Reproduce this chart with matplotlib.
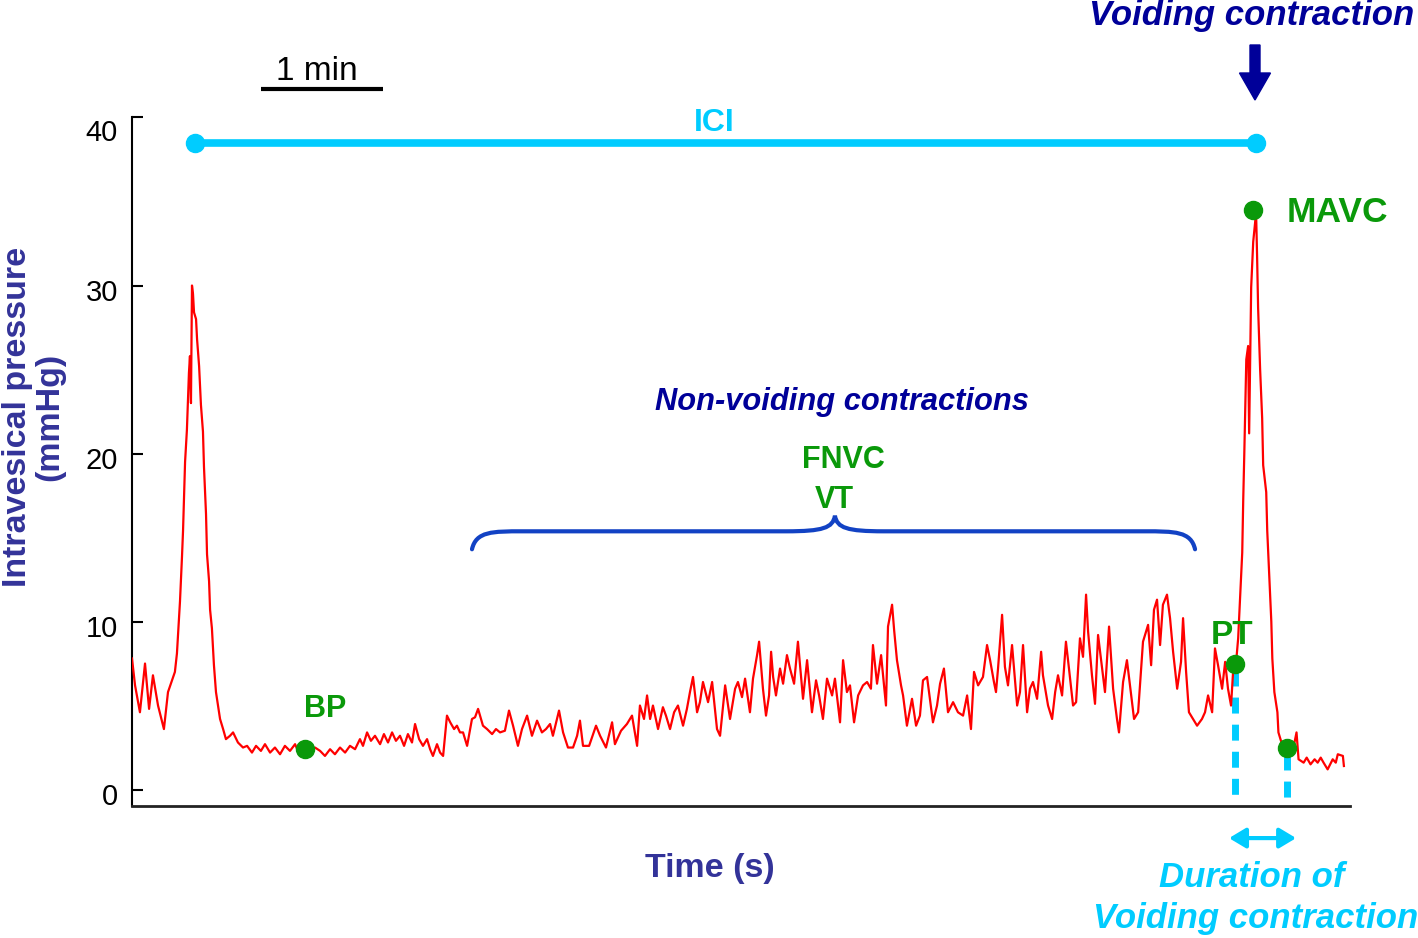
import matplotlib
matplotlib.use("Agg")
import matplotlib.pyplot as plt
from matplotlib.path import Path
from matplotlib.patches import PathPatch, FancyArrow
from matplotlib.transforms import ScaledTranslation

W, H = 1418, 938

# intravesical pressure trace (time in s, pressure in mmHg)
time_s = [
    0.0, 1.5, 3.9, 6.4, 8.4, 10.3, 12.8, 15.7, 17.7, 21.1,
    22.1, 23.6, 24.6, 25.1, 26.1, 27.0, 28.0, 28.5, 29.0, 29.5,
    30.0, 30.5, 31.5, 32.0, 33.0, 33.9, 34.9, 35.4, 36.4, 36.9,
    37.9, 38.4, 39.3, 40.3, 41.3, 42.3, 43.3, 44.8, 46.2, 48.2,
    49.7, 52.1, 54.6, 56.6, 59.0, 61.0, 63.4, 65.4, 67.9, 70.3,
    72.8, 75.2, 77.7, 80.2, 82.6, 85.1, 87.5, 90.0, 92.5, 94.9,
    97.4, 99.8, 102.3, 104.8, 107.2, 109.7, 112.1, 113.6, 115.6, 117.5,
    119.5, 122.0, 123.9, 125.9, 127.9, 129.8, 131.8, 133.8, 135.7, 137.7,
    139.2, 141.2, 143.1, 145.1, 146.6, 148.0, 150.0, 151.5, 153.0, 154.9,
    156.5, 158.4, 159.8, 161.3, 162.8, 164.8, 167.2, 168.7, 170.2, 172.6,
    174.6, 177.1, 179.0, 181.0, 183.4, 185.4, 187.4, 189.8, 191.8, 194.3,
    196.7, 199.2, 201.6, 203.6, 205.6, 207.0, 210.0, 212.0, 214.4, 216.9,
    218.9, 220.3, 221.8, 224.8, 228.2, 230.2, 233.1, 236.1, 237.5, 240.5,
    243.4, 245.9, 248.4, 249.8, 251.8, 253.3, 254.8, 256.2, 258.7, 261.1,
    262.6, 264.6, 266.6, 268.5, 271.0, 272.9, 274.4, 275.9, 277.9, 279.3,
    280.8, 283.3, 285.3, 287.7, 289.2, 291.7, 294.1, 296.6, 298.0, 300.0,
    301.5, 303.9, 305.4, 307.4, 308.4, 310.3, 311.8, 313.3, 314.3, 315.3,
    316.7, 318.7, 320.2, 322.1, 323.6, 325.6, 327.5, 330.0, 332.0, 334.4,
    336.4, 337.9, 339.8, 341.8, 344.3, 345.7, 348.2, 349.7, 351.6, 353.1,
    355.1, 357.1, 359.5, 361.5, 363.4, 364.4, 366.4, 368.4, 370.8, 371.8,
    373.8, 374.8, 376.2, 378.2, 379.2, 381.1, 383.6, 385.6, 387.5, 389.0,
    391.0, 393.9, 395.9, 397.4, 399.3, 401.3, 403.8, 406.2, 408.7, 410.7,
    412.6, 414.1, 416.1, 418.5, 420.5, 422.0, 423.9, 424.9, 425.9, 427.9,
    429.3, 430.8, 432.8, 435.3, 436.7, 438.2, 440.2, 441.6, 443.1, 445.1,
    447.1, 448.0, 450.5, 452.5, 454.0, 455.4, 457.4, 459.3, 460.8, 462.8,
    464.3, 466.2, 467.7, 469.2, 470.2, 472.1, 473.6, 475.1, 477.1, 478.5,
    480.5, 482.5, 484.4, 485.4, 487.4, 489.3, 490.8, 492.8, 494.8, 497.2,
    498.7, 499.7, 501.2, 502.6, 504.1, 505.6, 507.0, 509.0, 510.5, 512.0,
    514.0, 515.9, 516.9, 518.4, 519.8, 521.8, 523.8, 526.2, 527.7, 529.2,
    531.2, 532.6, 534.1, 536.1, 537.6, 539.0, 540.5, 541.5, 543.0, 544.0,
    545.0, 546.0, 546.5, 547.0, 548.0, 548.9, 549.4, 550.4, 551.4, 552.3,
    552.8, 553.3, 553.8, 554.8, 555.8, 556.3, 557.8, 558.3, 559.3, 560.3,
    560.8, 561.8, 563.3, 563.8, 565.3, 567.3, 569.2, 571.2, 572.7, 573.7,
    576.2, 577.7, 579.6, 581.6, 583.1, 584.6, 586.0, 588.0, 590.5, 592.0,
    593.0, 595.5, 596.0,
]
pressure_mmhg = [
    7.8, 6.2, 4.6, 7.5, 4.8, 6.8, 5.0, 3.6, 5.8, 7.0,
    8.1, 11.2, 13.9, 15.4, 19.5, 21.4, 24.8, 25.8, 23.0, 30.0,
    29.5, 28.4, 28.0, 26.8, 25.2, 22.9, 21.3, 19.2, 16.4, 14.0,
    12.4, 10.7, 9.6, 7.4, 5.8, 5.0, 4.2, 3.6, 3.0, 3.2,
    3.4, 2.8, 2.5, 2.6, 2.2, 2.6, 2.3, 2.7, 2.2, 2.5,
    2.1, 2.6, 2.3, 2.7, 2.0, 2.4, 2.2, 2.5, 2.3, 2.0,
    2.4, 2.1, 2.5, 2.2, 2.6, 2.4, 3.0, 2.6, 3.4, 2.9,
    3.2, 2.7, 3.3, 2.8, 3.4, 2.9, 3.2, 2.6, 3.3, 2.8,
    3.9, 3.0, 2.6, 3.0, 2.4, 2.0, 2.7, 2.2, 2.0, 4.4,
    4.0, 3.6, 3.8, 3.4, 3.4, 2.6, 4.2, 4.3, 4.8, 3.8,
    3.6, 3.3, 3.6, 3.4, 3.5, 4.7, 3.8, 2.6, 3.6, 4.4,
    3.2, 4.1, 3.4, 3.6, 3.9, 3.2, 4.7, 3.4, 2.5, 2.5,
    3.2, 4.1, 2.6, 2.6, 3.8, 3.2, 2.5, 4.0, 2.7, 3.5,
    3.9, 4.4, 2.6, 5.0, 4.2, 5.6, 4.2, 5.0, 3.6, 4.9,
    4.4, 3.6, 4.6, 5.0, 3.8, 4.8, 5.8, 6.7, 4.6, 5.2,
    6.4, 5.2, 6.4, 3.6, 3.2, 6.2, 4.2, 6.0, 6.4, 5.5,
    6.6, 4.6, 6.6, 8.0, 8.8, 6.0, 4.4, 5.6, 8.2, 6.7,
    5.6, 7.2, 6.3, 8.0, 7.2, 6.3, 8.8, 5.4, 7.7, 4.6,
    6.5, 5.6, 4.2, 6.6, 5.6, 6.6, 4.0, 7.7, 5.8, 6.2,
    4.0, 5.6, 6.2, 6.4, 6.0, 8.6, 6.3, 8.0, 5.0, 9.7,
    11.0, 9.5, 7.7, 6.2, 5.6, 3.8, 5.4, 3.8, 4.4, 6.5,
    6.7, 4.0, 5.0, 6.3, 7.2, 4.6, 5.2, 4.6, 4.4, 5.6,
    3.6, 7.0, 6.2, 6.7, 8.6, 7.7, 6.4, 5.8, 7.2, 10.4,
    7.3, 6.2, 8.6, 5.0, 5.8, 8.6, 4.6, 6.0, 6.4, 5.4,
    8.2, 6.8, 5.0, 4.2, 5.8, 6.8, 5.6, 8.8, 7.2, 5.0,
    5.2, 9.0, 7.9, 11.6, 9.4, 6.8, 5.1, 9.2, 7.2, 5.8,
    9.7, 6.0, 4.2, 3.4, 6.4, 7.7, 6.2, 4.2, 4.6, 8.8,
    9.4, 9.8, 7.4, 10.7, 11.3, 8.6, 11.0, 11.6, 10.2, 8.2,
    6.0, 7.6, 10.2, 7.0, 4.6, 4.2, 3.8, 4.2, 4.6, 5.6,
    4.6, 8.4, 7.4, 6.0, 7.6, 6.0, 5.0, 7.0, 7.6, 9.0,
    11.6, 14.1, 17.3, 19.9, 25.6, 26.4, 21.2, 29.9, 32.6, 33.7,
    34.4, 31.8, 28.7, 25.0, 22.1, 19.3, 17.7, 15.4, 12.7, 10.0,
    7.8, 5.8, 4.6, 3.4, 2.8, 2.6, 2.4, 2.5, 3.4, 1.8,
    1.6, 1.9, 1.5, 1.8, 1.6, 1.9, 1.6, 1.2, 1.8, 1.6,
    2.1, 2.0, 1.4,
]

yticks = [0, 10, 20, 30, 40]

# measured points (time s, pressure mmHg)
bp_point = (85.1, 2.4)
pt_point = (542.5, 7.5)
mavc_point = (551.4, 34.5)
end_point = (568.0, 2.5)
ici_span = (31.0, 552.8)
ici_level = 38.5
scale_bar = (63.4, 123.4)   # 1 min

RED = '#FF0000'
GREEN = '#0A990A'
CYAN = '#00CCFF'
NAVY = '#000099'
SLATE = '#333399'
BRACE = '#1242C4'

plt.rcParams['font.family'] = ['Liberation Sans', 'DejaVu Sans']


def fx(px):
    return px / W


def fy(py):
    return 1 - py / H


def draw_brace(ax, x0, x1, xm, y_end, y_mid, y_tip):
    """Curly brace opening downwards, tip at xm."""
    verts = [
        (x0, y_end), (x0 + 2, y_mid), (x0 + 10, y_mid), (x0 + 25, y_mid),
        (xm - 24, y_mid),
        (xm - 6, y_mid), (xm - 1, y_mid + 0.2), (xm, y_tip),
        (xm + 1, y_mid + 0.2), (xm + 6, y_mid), (xm + 24, y_mid),
        (x1 - 25, y_mid),
        (x1 - 10, y_mid), (x1 - 2, y_mid), (x1, y_end),
    ]
    codes = [Path.MOVETO, Path.CURVE4, Path.CURVE4, Path.CURVE4,
             Path.LINETO,
             Path.CURVE4, Path.CURVE4, Path.CURVE4,
             Path.CURVE4, Path.CURVE4, Path.CURVE4,
             Path.LINETO,
             Path.CURVE4, Path.CURVE4, Path.CURVE4]
    ax.add_patch(PathPatch(Path(verts, codes), fill=False, edgecolor=BRACE,
                           lw=3, capstyle='round', clip_on=False))


def main():
    assert len(time_s) == len(pressure_mmhg)

    fig = plt.figure(figsize=(W / 100, H / 100), dpi=100)
    ax = fig.add_axes([fx(132), fy(806), fx(1350) - fx(132), fy(117.5) - fy(806)])

    ax.plot(time_s, pressure_mmhg, color=RED, lw=1.6, zorder=3)

    ax.set_xlim(0, 599.0)
    ax.set_ylim(-0.98, 40)
    ax.set_xticks([])
    ax.set_yticks(yticks)
    ax.tick_params(axis='y', direction='in', length=8, width=1.5,
                   labelsize=21, pad=10, colors='black')
    # labels sit a little below their ticks in the original, the top one more so
    for tick_val, lab in zip(yticks, ax.get_yticklabels()):
        dy = -13 if tick_val == 40 else -4
        lab.set_transform(lab.get_transform() +
                          ScaledTranslation(0, dy / 100, fig.dpi_scale_trans))
    for side in ('top', 'right'):
        ax.spines[side].set_visible(False)
    ax.spines['left'].set_linewidth(1.5)
    ax.spines['bottom'].set_linewidth(2.0)
    ax.spines['bottom'].set_color('#222222')

    # scale bar
    ax.plot(scale_bar, [41.7, 41.7], color='black', lw=3, clip_on=False,
            solid_capstyle='butt')
    ax.text(91.0, 42.25, '1 min', fontsize=24, ha='center', va='baseline')

    # ICI
    ax.plot(ici_span, [ici_level, ici_level], color=CYAN, lw=5.5, marker='o',
            markersize=13, clip_on=False, zorder=4)
    ax.text(286.2, 39.2, 'ICI', color=CYAN, fontsize=23, fontweight='bold',
            ha='center', va='baseline')

    # duration of voiding contraction
    for (t, p) in (pt_point, end_point):
        ax.plot([t, t], [p - 0.4, -0.67], color=CYAN, lw=5, dashes=(2.3, 1.6),
                clip_on=False, zorder=2)
    ax.annotate('', xy=(539.5, -2.89), xytext=(572.5, -2.89),
                arrowprops=dict(arrowstyle='<|-|>,head_length=0.5,head_width=0.3',
                                color=CYAN, lw=3, mutation_scale=20,
                                shrinkA=0, shrinkB=0),
                annotation_clip=False)

    # green markers
    for (t, p) in (bp_point, pt_point, mavc_point, end_point):
        ax.plot(t, p, 'o', color=GREEN, markersize=13, zorder=5, clip_on=False)
    ax.text(568.0, 33.78, 'MAVC', color=GREEN, fontsize=25.5, fontweight='bold',
            ha='left', va='baseline')
    ax.text(94.9, 4.32, 'BP', color=GREEN, fontsize=22, fontweight='bold',
            ha='center', va='baseline')
    ax.text(541.0, 8.66, 'PT', color=GREEN, fontsize=24, fontweight='bold',
            ha='center', va='baseline')
    ax.text(349.7, 19.14, 'FNVC', color=GREEN, fontsize=22, fontweight='bold',
            ha='center', va='baseline')
    ax.text(345.2, 16.76, 'VT', color=GREEN, fontsize=22, fontweight='bold',
            ha='center', va='baseline')

    # non-voiding contractions
    ax.text(349.2, 22.59, 'Non-voiding contractions', color=NAVY, fontsize=22.2,
            fontweight='bold', fontstyle='italic', ha='center', va='baseline')
    draw_brace(ax, 167.2, 522.8, 345.7, 14.3, 15.37, 16.3)

    # voiding contraction label + arrow
    fig.text(fx(1252), fy(25), 'Voiding contraction', color=NAVY, fontsize=25,
             fontweight='bold', fontstyle='italic', ha='center', va='baseline')
    fig.add_artist(FancyArrow(12.55, (H - 45) / 100, 0, -0.55, width=0.10,
                              head_width=0.31, head_length=0.27,
                              length_includes_head=True, color=NAVY,
                              transform=fig.dpi_scale_trans))

    fig.text(fx(1252), fy(887), 'Duration of', color=CYAN, fontsize=25,
             fontweight='bold', fontstyle='italic', ha='center', va='baseline')
    fig.text(fx(1256), fy(928), 'Voiding contraction', color=CYAN, fontsize=25,
             fontweight='bold', fontstyle='italic', ha='center', va='baseline')

    # axis labels
    fig.text(fx(710), fy(877), 'Time (s)', color=SLATE, fontsize=24.5,
             fontweight='bold', ha='center', va='baseline')
    fig.text(fx(34), fy(417), 'Intravesical pressure\n(mmHg)', color=SLATE,
             fontsize=24.5, fontweight='bold', rotation=90, ha='center',
             va='center', multialignment='center', linespacing=1.05)

    fig.savefig('out.png', dpi=100, facecolor='white')
    plt.close(fig)


if __name__ == '__main__':
    main()
